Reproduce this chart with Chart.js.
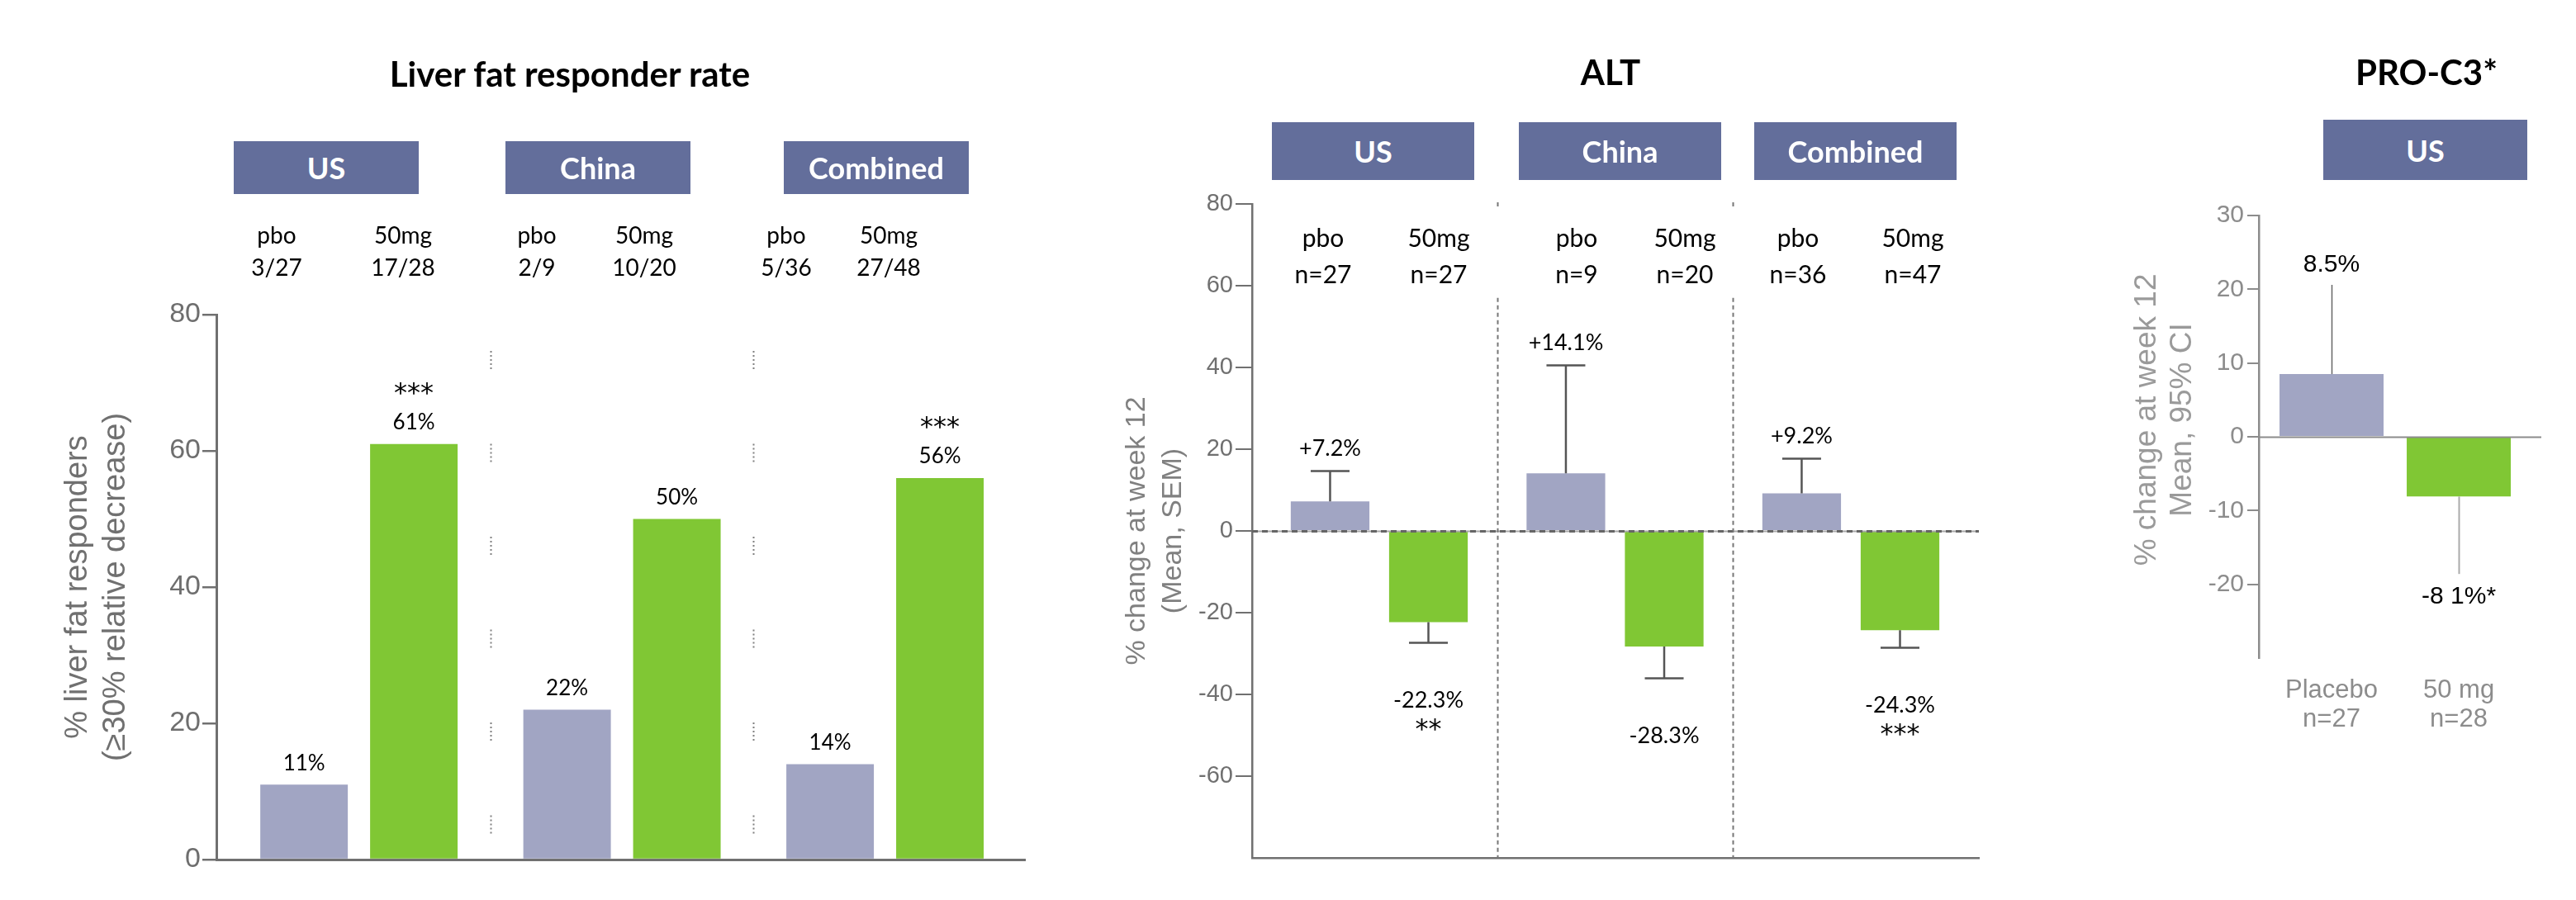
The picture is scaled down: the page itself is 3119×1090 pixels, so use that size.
<!DOCTYPE html>
<html>
<head>
<meta charset="utf-8">
<title>Liver fat, ALT and PRO-C3</title>
<script src="https://cdn.jsdelivr.net/npm/chart.js@4.4.1/dist/chart.umd.min.js"></script>
<style>
  body { margin: 0; background: #fff; }
  #page { position: relative; width: 3119px; height: 1090px; overflow: hidden; font-family: Lato, sans-serif; background: #fff; }
  #page canvas { position: absolute; top: 0; }
  .txt { position: absolute; transform: translate(-50%, -50%); white-space: nowrap; text-align: center; color: #000; }
  .title { font-weight: 700; font-size: 42px; line-height: 1.2; }
  .box { position: absolute; background: #636e9b; color: #fff; font-weight: 700; font-size: 36px;
         display: flex; align-items: center; justify-content: center; }
</style>
</head>
<body>
<div id="page">
  <canvas id="liver" width="1300" height="1090" style="left:0"></canvas>
  <canvas id="alt" width="1200" height="1090" style="left:1300px"></canvas>
  <canvas id="proc3" width="619" height="1090" style="left:2500px"></canvas>
</div>
<script>
// ---- data ----
const groups = ['US', 'China', 'Combined'];
const arms = ['pbo', '50mg'];

// liver fat responders (%)
const liverPbo = [11, 22, 14];
const liver50 = [61, 50, 56];
const liverPboFrac = ['3/27', '2/9', '5/36'];
const liver50Frac = ['17/28', '10/20', '27/48'];
const liverStars = ['***', '', '***'];
const liverYTicks = [0, 20, 40, 60, 80];

// ALT % change (mean, SEM)
const altPbo = [7.2, 14.1, 9.2];
const altPboSem = [7.5, 26.5, 8.6];
const alt50 = [-22.3, -28.3, -24.3];
const alt50Sem = [4.9, 7.7, 4.2];
const altPboN = [27, 9, 36];
const alt50N = [27, 20, 47];
const altStars = ['**', '', '***'];
const altYTicks = [80, 60, 40, 20, 0, -20, -40, -60];

// PRO-C3 % change (mean, 95% CI), US only
const proArms = ['Placebo', '50 mg'];
const proN = [27, 28];
const proMean = [8.5, -8.1];
const proCi = [20.6, -18.6];   // outer end of each CI whisker
const proText = ['8.5%', '-8 1%*'];
const proYTicks = [30, 20, 10, 0, -10, -20];

// ---- colours ----
const PBO = '#a1a5c3';
const MG = '#80c734';
const AXIS = '#707070';
const STAR_FONT = '32px DejaVu Sans';

// ---- html text: titles, group boxes, arm labels ----
const page = document.getElementById('page');
function addDiv(cls, html, css) {
  const d = document.createElement('div');
  d.className = cls;
  d.innerHTML = html;
  Object.assign(d.style, css);
  page.appendChild(d);
}

addDiv('txt title', 'Liver fat responder rate', { left: '690px', top: '89px' });
addDiv('txt title', 'ALT', { left: '1950px', top: '87px' });
addDiv('txt title', 'PRO-C3*', { left: '2938px', top: '87px' });

const liverBoxX = [283, 612, 949];
liverBoxX.forEach((x, i) => addDiv('box', groups[i], { left: x + 'px', top: '171px', width: '224px', height: '64px' }));
const altBoxX = [1540, 1839, 2124];
altBoxX.forEach((x, i) => addDiv('box', groups[i], { left: x + 'px', top: '148px', width: '245px', height: '70px' }));
addDiv('box', groups[0], { left: '2813px', top: '145px', width: '247px', height: '73px' });

const liverArmX = [335, 488, 650, 780, 952, 1076];
groups.forEach((g, i) => {
  addDiv('txt', arms[0] + '<br>' + liverPboFrac[i], { left: liverArmX[2 * i] + 'px', top: '304px', fontSize: '28px', lineHeight: '39px' });
  addDiv('txt', arms[1] + '<br>' + liver50Frac[i], { left: liverArmX[2 * i + 1] + 'px', top: '304px', fontSize: '28px', lineHeight: '39px' });
});
const altArmX = [1602, 1742, 1909, 2040, 2177, 2316];
groups.forEach((g, i) => {
  addDiv('txt', arms[0] + '<br>n=' + altPboN[i], { left: altArmX[2 * i] + 'px', top: '309px', fontSize: '30px', lineHeight: '44px' });
  addDiv('txt', arms[1] + '<br>n=' + alt50N[i], { left: altArmX[2 * i + 1] + 'px', top: '309px', fontSize: '30px', lineHeight: '44px' });
});

// ---- shared bits ----
function yTitle(lines, size, lh, color) {
  return { display: true, text: lines, color: color,
           font: { family: 'Liberation Sans', size: size, lineHeight: lh }, padding: { top: 0, bottom: 0 } };
}
function setTicks(values) {
  return s => { s.ticks = values.map(v => ({ value: v })); };
}
const groupTicks = setTicks(groups.map((g, i) => i + 1));

// ---- liver fat responders ----
const liverLabels = {
  id: 'liverLabels',
  afterDatasetsDraw(chart) {
    const { ctx, scales: { x, y } } = chart;
    ctx.save();
    // dotted dividers between regions
    ctx.strokeStyle = '#808080';
    ctx.lineWidth = 2;
    ctx.setLineDash([2, 3, 2, 3, 2, 3, 2, 3, 2, 90.5]);
    [1.5, 2.5].forEach(v => {
      const px = Math.round(x.getPixelForValue(v)) + 0.5;
      ctx.beginPath();
      ctx.moveTo(px, 425);
      ctx.lineTo(px, y.bottom - 10);
      ctx.stroke();
    });
    ctx.setLineDash([]);
    ctx.fillStyle = '#000';
    ctx.textAlign = 'center';
    ctx.textBaseline = 'middle';
    chart.data.datasets.forEach((ds, di) => {
      chart.getDatasetMeta(di).data.forEach((el, i) => {
        ctx.font = '26px Lato';
        ctx.fillText(ds.data[i].y + '%', el.x, el.y - 26);
        if (di === 1 && liverStars[i]) {
          ctx.font = STAR_FONT;
          ctx.fillText(liverStars[i], el.x, el.y - 60);
        }
      });
    });
    ctx.restore();
  }
};

new Chart(document.getElementById('liver'), {
  type: 'bar',
  data: {
    datasets: [
      { label: arms[0], data: liverPbo.map((v, i) => ({ x: i + 1, y: v })), backgroundColor: PBO },
      { label: arms[1], data: liver50.map((v, i) => ({ x: i + 1, y: v })), backgroundColor: MG }
    ]
  },
  options: {
    responsive: false,
    animation: false,
    layout: { padding: { left: 72, top: 381, right: 59, bottom: 49 } },
    datasets: { bar: { categoryPercentage: 0.835, barPercentage: 0.797 } },
    plugins: { legend: { display: false }, tooltip: { enabled: false } },
    scales: {
      x: {
        type: 'linear', min: 0.458, max: 3.532, offset: false, z: 1,
        afterBuildTicks: groupTicks,
        afterFit: s => { s.height = 0; },
        ticks: { display: false },
        grid: { display: false, drawTicks: false, offset: false },
        border: { display: true, color: AXIS, width: 3 }
      },
      y: {
        min: 0, max: 80, z: 1,
        afterBuildTicks: setTicks(liverYTicks),
        afterFit: s => { s.width = 190; },
        ticks: { color: '#6e6e6e', font: { family: 'Liberation Sans', size: 34 }, padding: 2 },
        grid: { drawOnChartArea: false, drawTicks: true, tickLength: 17, color: AXIS, lineWidth: 2.5 },
        border: { display: true, color: AXIS, width: 3 },
        title: yTitle(['% liver fat responders', '(\u226530% relative decrease)'], 38, 1.2, '#707070')
      }
    }
  },
  plugins: [liverLabels]
});

// ---- ALT ----
const altSem = [altPboSem, alt50Sem];
const altLabels = {
  id: 'altLabels',
  afterDatasetsDraw(chart) {
    const { ctx, chartArea, scales: { x, y } } = chart;
    ctx.save();
    // zero line
    const y0 = Math.round(y.getPixelForValue(0)) + 0.5;
    ctx.strokeStyle = '#a8a8a8';
    ctx.lineWidth = 2;
    ctx.beginPath(); ctx.moveTo(chartArea.left, y0); ctx.lineTo(chartArea.right, y0); ctx.stroke();
    ctx.strokeStyle = '#666';
    ctx.lineWidth = 3;
    ctx.setLineDash([7, 5]);
    ctx.beginPath(); ctx.moveTo(chartArea.left, y0); ctx.lineTo(chartArea.right, y0); ctx.stroke();
    // dashed dividers between regions
    ctx.strokeStyle = '#777';
    ctx.lineWidth = 2;
    ctx.setLineDash([5, 4]);
    [1.5, 2.5].forEach(v => {
      const px = Math.round(x.getPixelForValue(v)) + 0.5;
      ctx.beginPath();
      ctx.moveTo(px, chartArea.top - 2); ctx.lineTo(px, chartArea.top + 6);
      ctx.moveTo(px, y.getPixelForValue(57)); ctx.lineTo(px, chartArea.bottom);
      ctx.stroke();
    });
    ctx.setLineDash([]);
    // SEM whiskers and labels
    ctx.textAlign = 'center';
    ctx.textBaseline = 'middle';
    chart.data.datasets.forEach((ds, di) => {
      chart.getDatasetMeta(di).data.forEach((el, i) => {
        const v = ds.data[i].y;
        const sign = v >= 0 ? 1 : -1;
        const end = Math.round(y.getPixelForValue(v + sign * altSem[di][i])) + 0.5;
        ctx.strokeStyle = '#555';
        ctx.lineWidth = 2.5;
        ctx.beginPath();
        ctx.moveTo(el.x, el.y); ctx.lineTo(el.x, end);
        ctx.moveTo(el.x - 23.5, end); ctx.lineTo(el.x + 23.5, end);
        ctx.stroke();
        ctx.fillStyle = '#000';
        ctx.font = '27px Lato';
        const txt = (v > 0 ? '+' : '') + v.toFixed(1) + '%';
        if (sign > 0) {
          ctx.fillText(txt, el.x, end - 27);
        } else {
          ctx.fillText(txt, el.x, end + 70);
          if (altStars[i]) {
            ctx.font = STAR_FONT;
            ctx.fillText(altStars[i], el.x, end + 106);
          }
        }
      });
    });
    ctx.restore();
  }
};

new Chart(document.getElementById('alt'), {
  type: 'bar',
  data: {
    datasets: [
      { label: arms[0], data: altPbo.map((v, i) => ({ x: i + 1, y: v })), backgroundColor: PBO },
      { label: arms[1], data: alt50.map((v, i) => ({ x: i + 1, y: v })), backgroundColor: MG }
    ]
  },
  options: {
    responsive: false,
    animation: false,
    layout: { padding: { left: 54, top: 247, right: 104, bottom: 51 } },
    datasets: { bar: { categoryPercentage: 0.834, barPercentage: 0.8 } },
    plugins: { legend: { display: false }, tooltip: { enabled: false } },
    scales: {
      x: {
        type: 'linear', min: 0.4606, max: 3.543, offset: false, z: 1,
        afterBuildTicks: groupTicks,
        afterFit: s => { s.height = 0; },
        ticks: { display: false },
        grid: { display: false, drawTicks: false, offset: false },
        border: { display: true, color: AXIS, width: 2.5 }
      },
      y: {
        min: -80, max: 80, z: 1,
        afterBuildTicks: setTicks(altYTicks),
        afterFit: s => { s.width = 162; },
        ticks: { color: '#707070', font: { family: 'Liberation Sans', size: 29 }, padding: 3 },
        grid: { drawOnChartArea: false, drawTicks: true, tickLength: 20, color: AXIS, lineWidth: 2 },
        border: { display: true, color: AXIS, width: 2.5 },
        title: yTitle(['% change at week 12', '(Mean, SEM)'], 34, 1.31, '#808080')
      }
    }
  },
  plugins: [altLabels]
});

// ---- PRO-C3 ----
const proLabels = {
  id: 'proLabels',
  afterDatasetsDraw(chart) {
    const { ctx, chartArea, scales: { y } } = chart;
    ctx.save();
    const y0 = Math.round(y.getPixelForValue(0)) + 0.5;
    ctx.strokeStyle = '#8c8c8c';
    ctx.lineWidth = 2;
    ctx.beginPath(); ctx.moveTo(chartArea.left, y0); ctx.lineTo(chartArea.right, y0); ctx.stroke();
    ctx.font = '30px Liberation Sans';
    ctx.textAlign = 'center';
    ctx.textBaseline = 'middle';
    chart.getDatasetMeta(0).data.forEach((el, i) => {
      const end = y.getPixelForValue(proCi[i]);
      const px = Math.round(el.x) + 0.5;
      ctx.strokeStyle = i === 0 ? '#666' : '#aaa';
      ctx.lineWidth = i === 0 ? 1.5 : 2;
      ctx.beginPath(); ctx.moveTo(px, el.y); ctx.lineTo(px, end); ctx.stroke();
      ctx.fillStyle = '#000';
      ctx.fillText(proText[i], el.x, proCi[i] >= 0 ? end - 24 : end + 28);
    });
    ctx.restore();
  }
};

// leading no-break spaces nudge the rotated title up, as in the original
const pad = '\u00a0\u00a0\u00a0\u00a0';

new Chart(document.getElementById('proc3'), {
  type: 'bar',
  data: {
    datasets: [{
      label: 'PRO-C3',
      data: proMean.map((v, i) => ({ x: i + 1, y: v })),
      backgroundColor: [PBO, MG],
      categoryPercentage: 1,
      barPercentage: 0.818
    }]
  },
  options: {
    responsive: false,
    animation: false,
    layout: { padding: { left: 78, top: 261, right: 42, bottom: 193 } },
    plugins: { legend: { display: false }, tooltip: { enabled: false } },
    scales: {
      x: {
        type: 'linear', min: 0.4286, max: 2.649, offset: false,
        afterBuildTicks: setTicks([1, 2]),
        afterFit: s => { s.height = 100; },
        ticks: {
          callback: (v, i) => [proArms[i], 'n=' + proN[i]],
          color: '#8c8c8c', font: { family: 'Liberation Sans', size: 31, lineHeight: 1.13 },
          padding: 22, maxRotation: 0, autoSkip: false
        },
        grid: { display: false, drawTicks: false, offset: false },
        border: { display: false }
      },
      y: {
        min: -30, max: 30, z: 1,
        afterBuildTicks: setTicks(proYTicks),
        afterFit: s => { s.width = 157; },
        ticks: { color: '#8c8c8c', font: { family: 'Liberation Sans', size: 30 }, padding: 4 },
        grid: { drawOnChartArea: false, drawTicks: true, tickLength: 14, color: '#8c8c8c', lineWidth: 2 },
        border: { display: true, color: '#8c8c8c', width: 2.5 },
        title: yTitle([pad + '% change at week 12', pad + 'Mean, 95% CI'], 37, 1.16, '#9a9a9a')
      }
    }
  },
  plugins: [proLabels]
});
</script>
</body>
</html>
